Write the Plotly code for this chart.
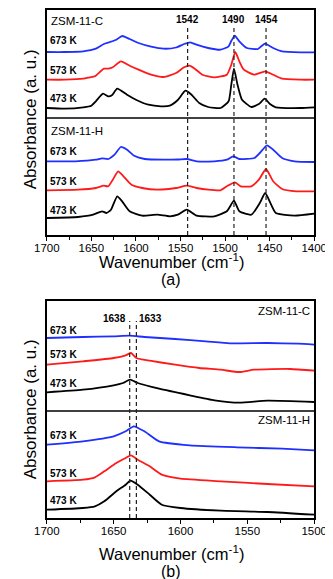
import plotly.graph_objects as go

# ---- panel (a): 1700-1400 cm-1, ZSM-11-C (upper) and ZSM-11-H (lower) ----
a_c673_x = [1700, 1680, 1659, 1645, 1636, 1629, 1622, 1615.5, 1607, 1597, 1583, 1569, 1555, 1546, 1539, 1532,
            1519, 1505, 1496, 1493, 1489, 1484, 1475.5, 1463, 1459, 1455, 1446, 1436, 1415, 1400]
a_c673_y = [183, 183, 183.7, 186.3, 191, 193, 195.3, 199, 196, 192, 188.3, 186.3, 187.5, 191, 192.7, 190.3,
            187, 185.3, 188.7, 194, 199.3, 193.7, 187, 186, 189, 191.3, 187, 183.7, 182.7, 182.7]

a_c573_x = [1700, 1680, 1659, 1652, 1646, 1636, 1631, 1626, 1617, 1607, 1597, 1583, 1569, 1555, 1546, 1540,
            1534, 1525.5, 1512, 1498, 1493, 1488.5, 1484, 1479, 1467, 1455, 1446, 1436, 1415, 1400]
a_c573_y = [155.3, 155.3, 156.3, 157.7, 158.7, 166.3, 166.3, 167.7, 173.7, 169.3, 165.3, 160.3, 158, 162, 167.7, 169.3,
            166.3, 160.3, 157.7, 160.3, 170.3, 183, 173.7, 165.3, 160.3, 163.7, 160.3, 156.3, 155.3, 155.3]

a_c473_x = [1700, 1680, 1659, 1650, 1645, 1637, 1631, 1627, 1621, 1610, 1600, 1586, 1572, 1562, 1553, 1544.5,
            1537.6, 1529, 1519, 1505, 1496, 1493, 1490, 1486, 1481, 1470.5, 1462, 1455.5, 1449.6, 1443, 1415, 1400]
a_c473_y = [127, 126.3, 127.7, 129.3, 133.7, 141.3, 138.7, 139.7, 146.3, 140.3, 135.3, 130.3, 128.7, 129.3, 135, 144.3,
            140.3, 132, 128, 127, 133.7, 150.3, 166.3, 150.3, 135.3, 128, 131, 136.3, 131, 127.7, 127, 127.7]

a_h673_x = [1700, 1668, 1645, 1638, 1631, 1624, 1617, 1610, 1602, 1590, 1569, 1553, 1543, 1532, 1512, 1498,
            1491, 1484, 1467, 1461, 1453, 1446, 1436, 1422, 1400]
a_h673_y = [73.7, 73.7, 75.3, 76.7, 76, 80.3, 88, 85.3, 79.3, 76, 75.3, 75.5, 76, 73.7, 73.7, 75.3,
            78.7, 76, 77, 82, 89.7, 85.3, 77, 73.7, 73]

a_h573_x = [1700, 1665, 1645, 1636, 1631, 1626, 1620, 1614, 1605, 1593, 1576, 1555, 1543, 1532, 1519, 1505,
            1498, 1489, 1482.5, 1470.5, 1462, 1454, 1446, 1436, 1420, 1400]
a_h573_y = [44.7, 45.3, 47, 49.3, 48.7, 55.3, 63.7, 58.7, 50.3, 47, 45.3, 47, 49.3, 47, 45.3, 44.7,
            48.7, 52.7, 48.7, 48.7, 55.3, 66, 53.7, 46, 43.7, 43.7]

a_h473_x = [1700, 1665, 1648, 1638, 1633, 1628, 1621, 1615.5, 1607, 1593, 1576, 1562, 1553, 1543, 1532, 1512,
            1498, 1490, 1484, 1470.5, 1461, 1455, 1450, 1443, 1422, 1400]
a_h473_y = [17, 18, 20.3, 23.7, 22, 25.3, 38.7, 33.7, 23.7, 19.3, 20.3, 18.7, 20.3, 25.3, 19.3, 18.7,
            23.7, 34.3, 23.7, 20.3, 32, 42, 33.7, 22, 19.3, 21.3]

a_peaks = [1542, 1490, 1454]

# ---- panel (b): 1700-1500 cm-1 ----
b_c673_x = [1700, 1673, 1650, 1638, 1627, 1604, 1581, 1563, 1535, 1512, 1500]
b_c673_y = [180, 181, 181.7, 182.3, 181, 179, 176.7, 174.7, 175, 174.3, 173.3]

b_c573_x = [1700, 1673, 1650, 1641, 1637, 1633, 1623, 1604, 1586, 1570, 1556, 1545, 1518, 1500]
b_c573_y = [153.3, 156.7, 160, 162.7, 165, 160, 157.3, 153.3, 150, 148.3, 146, 148.3, 149, 147.3]

b_c473_x = [1700, 1673, 1650, 1643, 1637.7, 1632, 1616, 1593, 1574.5, 1556, 1535, 1500]
b_c473_y = [125.7, 128.3, 132.7, 135, 138.3, 135, 129.3, 122.7, 117.7, 115.3, 117.3, 116]

b_h673_x = [1700, 1673, 1650, 1641, 1635, 1627, 1616, 1593, 1558, 1524, 1500]
b_h673_y = [73.3, 76.7, 81.7, 86.7, 91.7, 86.7, 76.7, 72.7, 70.7, 69.3, 67.7]

b_h573_x = [1700, 1673, 1664, 1657, 1648, 1641, 1637, 1632, 1623, 1614, 1600, 1570, 1535, 1500]
b_h573_y = [36.7, 38.3, 40.7, 46.7, 55, 60, 62.7, 58.3, 51.7, 43.3, 39.3, 36.7, 34, 31.7]

b_h473_x = [1700, 1673, 1664, 1657, 1648, 1641, 1637.5, 1632, 1623, 1614, 1600, 1570, 1535, 1500]
b_h473_y = [8.3, 10, 11.7, 16.7, 26.7, 33.3, 37.3, 33.3, 23.3, 13.3, 10, 7.3, 6, 3.3]

b_peaks = [1638, 1633]

temps = ["673 K", "573 K", "473 K"]
colors = ["#1f2fff", "#ff1a1a", "#000000"]

FONT = "Liberation Sans, Arial, sans-serif"

fig = go.Figure()

a_curves = [(a_c673_x, a_c673_y), (a_c573_x, a_c573_y), (a_c473_x, a_c473_y),
            (a_h673_x, a_h673_y), (a_h573_x, a_h573_y), (a_h473_x, a_h473_y)]
b_curves = [(b_c673_x, b_c673_y), (b_c573_x, b_c573_y), (b_c473_x, b_c473_y),
            (b_h673_x, b_h673_y), (b_h573_x, b_h573_y), (b_h473_x, b_h473_y)]

for ax, curves in [("", a_curves), ("2", b_curves)]:
    for i, (xs, ys) in enumerate(curves):
        fig.add_trace(go.Scatter(x=xs, y=ys, mode="lines",
                                 line=dict(color=colors[i % 3], width=1.8, shape="spline", smoothing=0.5),
                                 xaxis="x" + ax, yaxis="y" + ax, showlegend=False, hoverinfo="skip"))

W, H = 333, 579
def px(pix):
    return pix / W

def py(pix):
    return 1 - pix / H

def label(x, y, text, size=10, xanchor="center", xref="paper", **kw):
    fig.add_annotation(x=x, y=y, xref=xref, yref="paper", text=text, showarrow=False,
                       xanchor=xanchor, yanchor="middle",
                       font=dict(family=FONT, size=size, color="black"), **kw)

xdom = [px(28), px(318)]
common_x = dict(showline=True, linecolor="black", linewidth=1.5, mirror=True, showgrid=False,
                zeroline=False, ticks="outside", ticklen=4, tickwidth=1.2, tickcolor="black",
                tickfont=dict(family=FONT, size=11.5, color="black"), ticklabelstandoff=-3,
                minor=dict(ticks="outside", ticklen=3, tickwidth=1, tickcolor="black", dtick=25, showgrid=False),
                domain=xdom)
common_y = dict(showline=True, linecolor="black", linewidth=1.5, mirror=True, showgrid=False,
                zeroline=False, showticklabels=False, ticks="")

fig.update_layout(
    width=W, height=H, margin=dict(l=0, r=0, t=0, b=0),
    paper_bgcolor="white", plot_bgcolor="white",
    xaxis=dict(common_x, range=[1700, 1400], dtick=50, anchor="y"),
    yaxis=dict(common_y, range=[0, 225], domain=[py(227), py(2)], anchor="x"),
    xaxis2=dict(common_x, range=[1700, 1500], dtick=50, anchor="y2"),
    yaxis2=dict(common_y, range=[0, 217], domain=[py(510), py(293)], anchor="x2"),
)

# dividers between the two samples
fig.add_shape(type="line", xref="x domain", yref="y", x0=0, x1=1, y0=117, y1=117,
              line=dict(color="black", width=1.3))
fig.add_shape(type="line", xref="x2 domain", yref="y2", x0=0, x1=1, y0=107, y1=107,
              line=dict(color="black", width=1.3))

# dashed peak markers
for p in a_peaks:
    fig.add_shape(type="line", xref="x", yref="y", x0=p, x1=p, y0=0, y1=207,
                  line=dict(color="#222222", width=1.2, dash="4px,3px"))
    label(p, py(12), "<b>%d</b>" % p, xref="x")
for p in b_peaks:
    fig.add_shape(type="line", xref="x2", yref="y2", x0=p, x1=p, y0=0, y1=197,
                  line=dict(color="#222222", width=1.2, dash="4px,3px"))
label(b_peaks[0], py(310), "<b>%d</b>" % b_peaks[0], xref="x2", xanchor="right", xshift=-2)
label(b_peaks[1], py(310), "<b>%d</b>" % b_peaks[1], xref="x2", xanchor="left", xshift=1)

# sample labels
label(px(30), py(13), "ZSM-11-C", size=11.5, xanchor="left")
label(px(30), py(123), "ZSM-11-H", size=11.5, xanchor="left")
label(px(316), py(303), "ZSM-11-C", size=11.5, xanchor="right")
label(px(316), py(412), "ZSM-11-H", size=11.5, xanchor="right")

# temperature labels
temp_rows = [[33, 63, 91, 143, 173, 202], [322, 346, 375, 427, 465, 492]]
for rows in temp_rows:
    for i, yy in enumerate(rows):
        label(px(29), py(yy), "<b>%s</b>" % temps[i % 3], xanchor="left")

# axis titles and panel letters
for ty, ly, ay, letter in [(253, 271, 111, "a"), (545, 563, 401, "b")]:
    label(px(163), py(ty), "Wavenumber (cm<sup>-1</sup>)", size=16.5)
    label(px(163), py(ly), "(%s)" % letter, size=16)
    label(px(10), py(ay), "Absorbance (a. u.)", size=17, textangle=-90)

fig.write_html("out.html")
